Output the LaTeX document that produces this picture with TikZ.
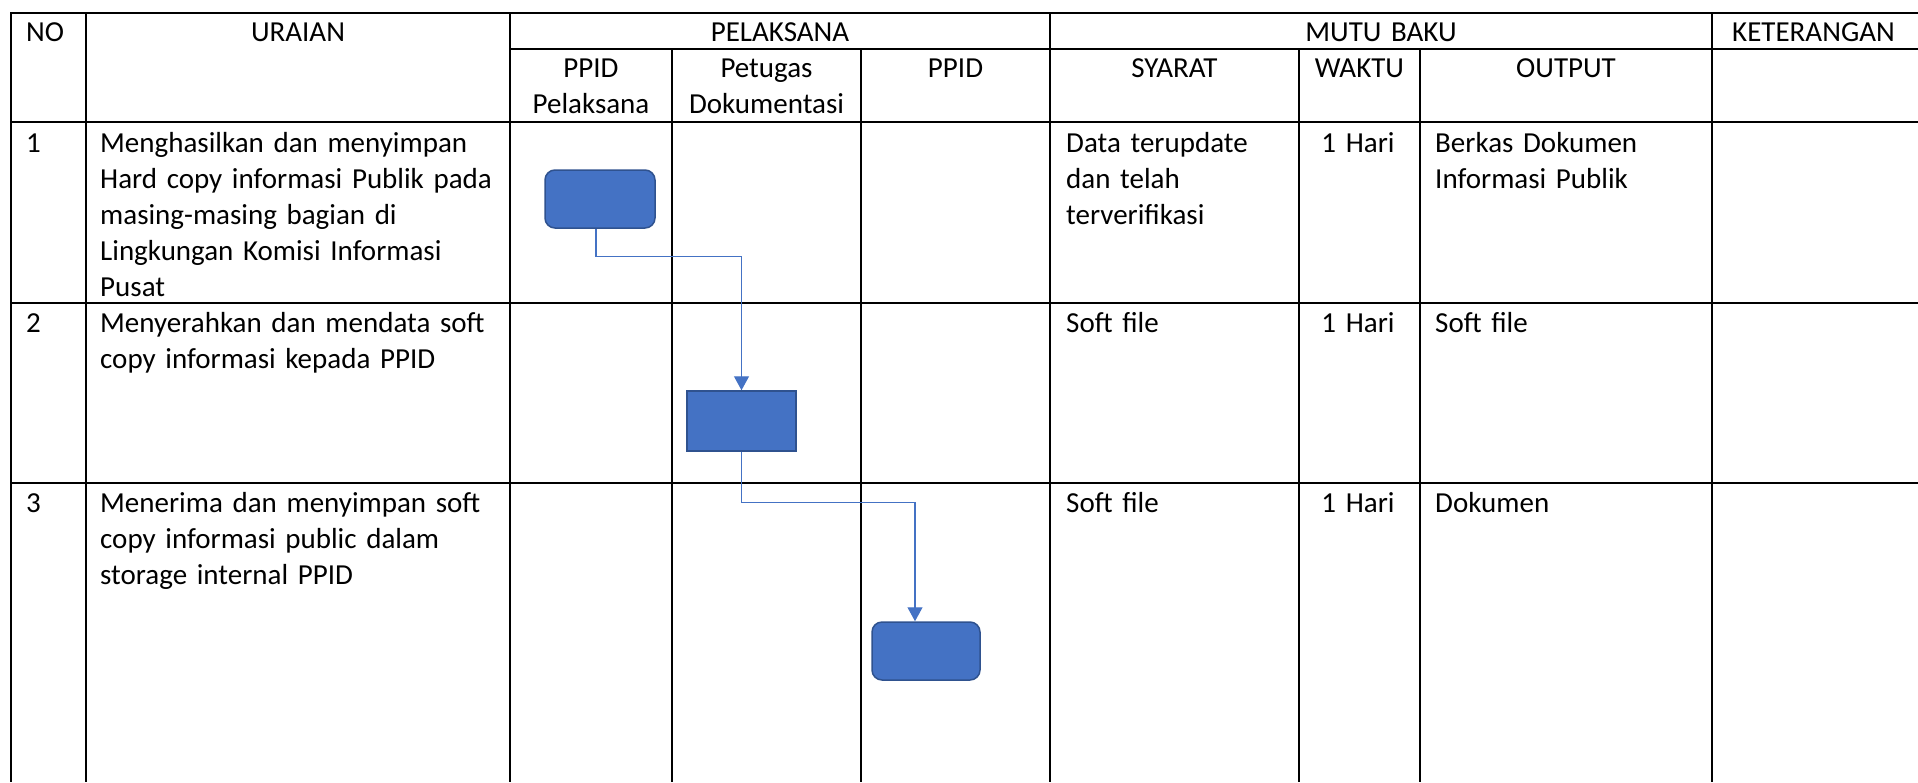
\documentclass[tikz,border=0pt]{standalone}
\usepackage{fontspec}
\setmainfont{Carlito}
\usetikzlibrary{arrows.meta}
\definecolor{boxblue}{HTML}{4472C4}
\definecolor{boxedge}{HTML}{2F528F}
\begin{document}
\begin{tikzpicture}[x=1pt,y=-1pt,
  every node/.style={font=\fontsize{29}{36}\selectfont},
  grid/.style={line width=2pt,black},
  cell/.style={inner sep=0pt,anchor=base west,align=left,text width=#1},
  cell/.default=440pt,
  head/.style={inner sep=0pt,anchor=base,align=center,text width=#1},
  head/.default=180pt,
  task/.style={draw=boxedge,fill=boxblue,line width=1.5pt,inner sep=0pt,
    minimum width=110pt,minimum height=58pt,rounded corners=10pt},
  tasksq/.style={task,sharp corners,minimum width=109pt,minimum height=60pt},
  conn/.style={draw=boxblue,line width=1.2pt,-{Triangle[length=14pt,width=15pt]}}]
\useasboundingbox (0,0) rectangle (1918,782);

% table rules
\draw[grid] (1918,13) -- (11,13) -- (11,782);
\draw[grid] (86,13) -- (86,782);
\draw[grid] (510,13) -- (510,782);
\draw[grid] (1050,13) -- (1050,782);
\draw[grid] (1712,13) -- (1712,782);
\foreach \x in {672,861,1299,1420} \draw[grid] (\x,49) -- (\x,782);
\draw[grid] (510,49) -- (1918,49);
\foreach \y in {122,303,483} \draw[grid] (11,\y) -- (1918,\y);

% header
\node[cell=60pt] (hno) at (26,41) {NO};
\node[head=400pt] (hur) at (298,41) {URAIAN};
\node[head=500pt] (hpel) at (780,41) {PELAKSANA};
\node[head=600pt] (hmutu) at (1381,41) {MUTU BAKU};
\node[cell=220pt] (hket) at (1732,41) {KETERANGAN};
\node[head=160pt] (hp1) at (591,77) {PPID\\Pelaksana};
\node[head=185pt] (hp2) at (766.5,77) {Petugas\\Dokumentasi};
\node[head=185pt] (hp3) at (955.5,77) {PPID};
\node[head=240pt] (hsy) at (1174.5,77) {SYARAT};
\node[head=120pt] (hwk) at (1359.5,77) {WAKTU};
\node[head=280pt] (hout) at (1566,77) {OUTPUT};

% row 1
\node[cell=50pt] (r1no) at (26,152) {1};
\node[cell] (r1ur) at (100,152) {Menghasilkan dan menyimpan\\Hard copy informasi Publik pada\\masing-masing bagian di\\Lingkungan Komisi Informasi\\Pusat};
\node[cell=230pt] (r1sy) at (1066,152) {Data terupdate\\dan telah\\terverifikasi};
\node[head=120pt] (r1wk) at (1358,152) {1 Hari};
\node[cell=270pt] (r1out) at (1435,152) {Berkas Dokumen\\Informasi Publik};

% row 2
\node[cell=50pt] (r2no) at (26,332) {2};
\node[cell] (r2ur) at (100,332) {Menyerahkan dan mendata soft\\copy informasi kepada PPID};
\node[cell=230pt] (r2sy) at (1066,332) {Soft file};
\node[head=120pt] (r2wk) at (1358,332) {1 Hari};
\node[cell=270pt] (r2out) at (1435,332) {Soft file};

% row 3
\node[cell=50pt] (r3no) at (26,512) {3};
\node[cell] (r3ur) at (100,512) {Menerima dan menyimpan soft\\copy informasi public dalam\\storage internal PPID};
\node[cell=230pt] (r3sy) at (1066,512) {Soft file};
\node[head=120pt] (r3wk) at (1358,512) {1 Hari};
\node[cell=270pt] (r3out) at (1435,512) {Dokumen};

% flow boxes
\node[task] (b1) at (600,199) {};
\node[tasksq] (b2) at (741.5,421) {};
\node[task,minimum width=108pt] (b3) at (926,651) {};

% connectors
\draw[conn] ([xshift=-4pt]b1.south) -- ++(0,28) -| (b2.north);
\draw[conn] (b2.south) -- ++(0,51) -| ([xshift=-11pt]b3.north);
\end{tikzpicture}
\end{document}
